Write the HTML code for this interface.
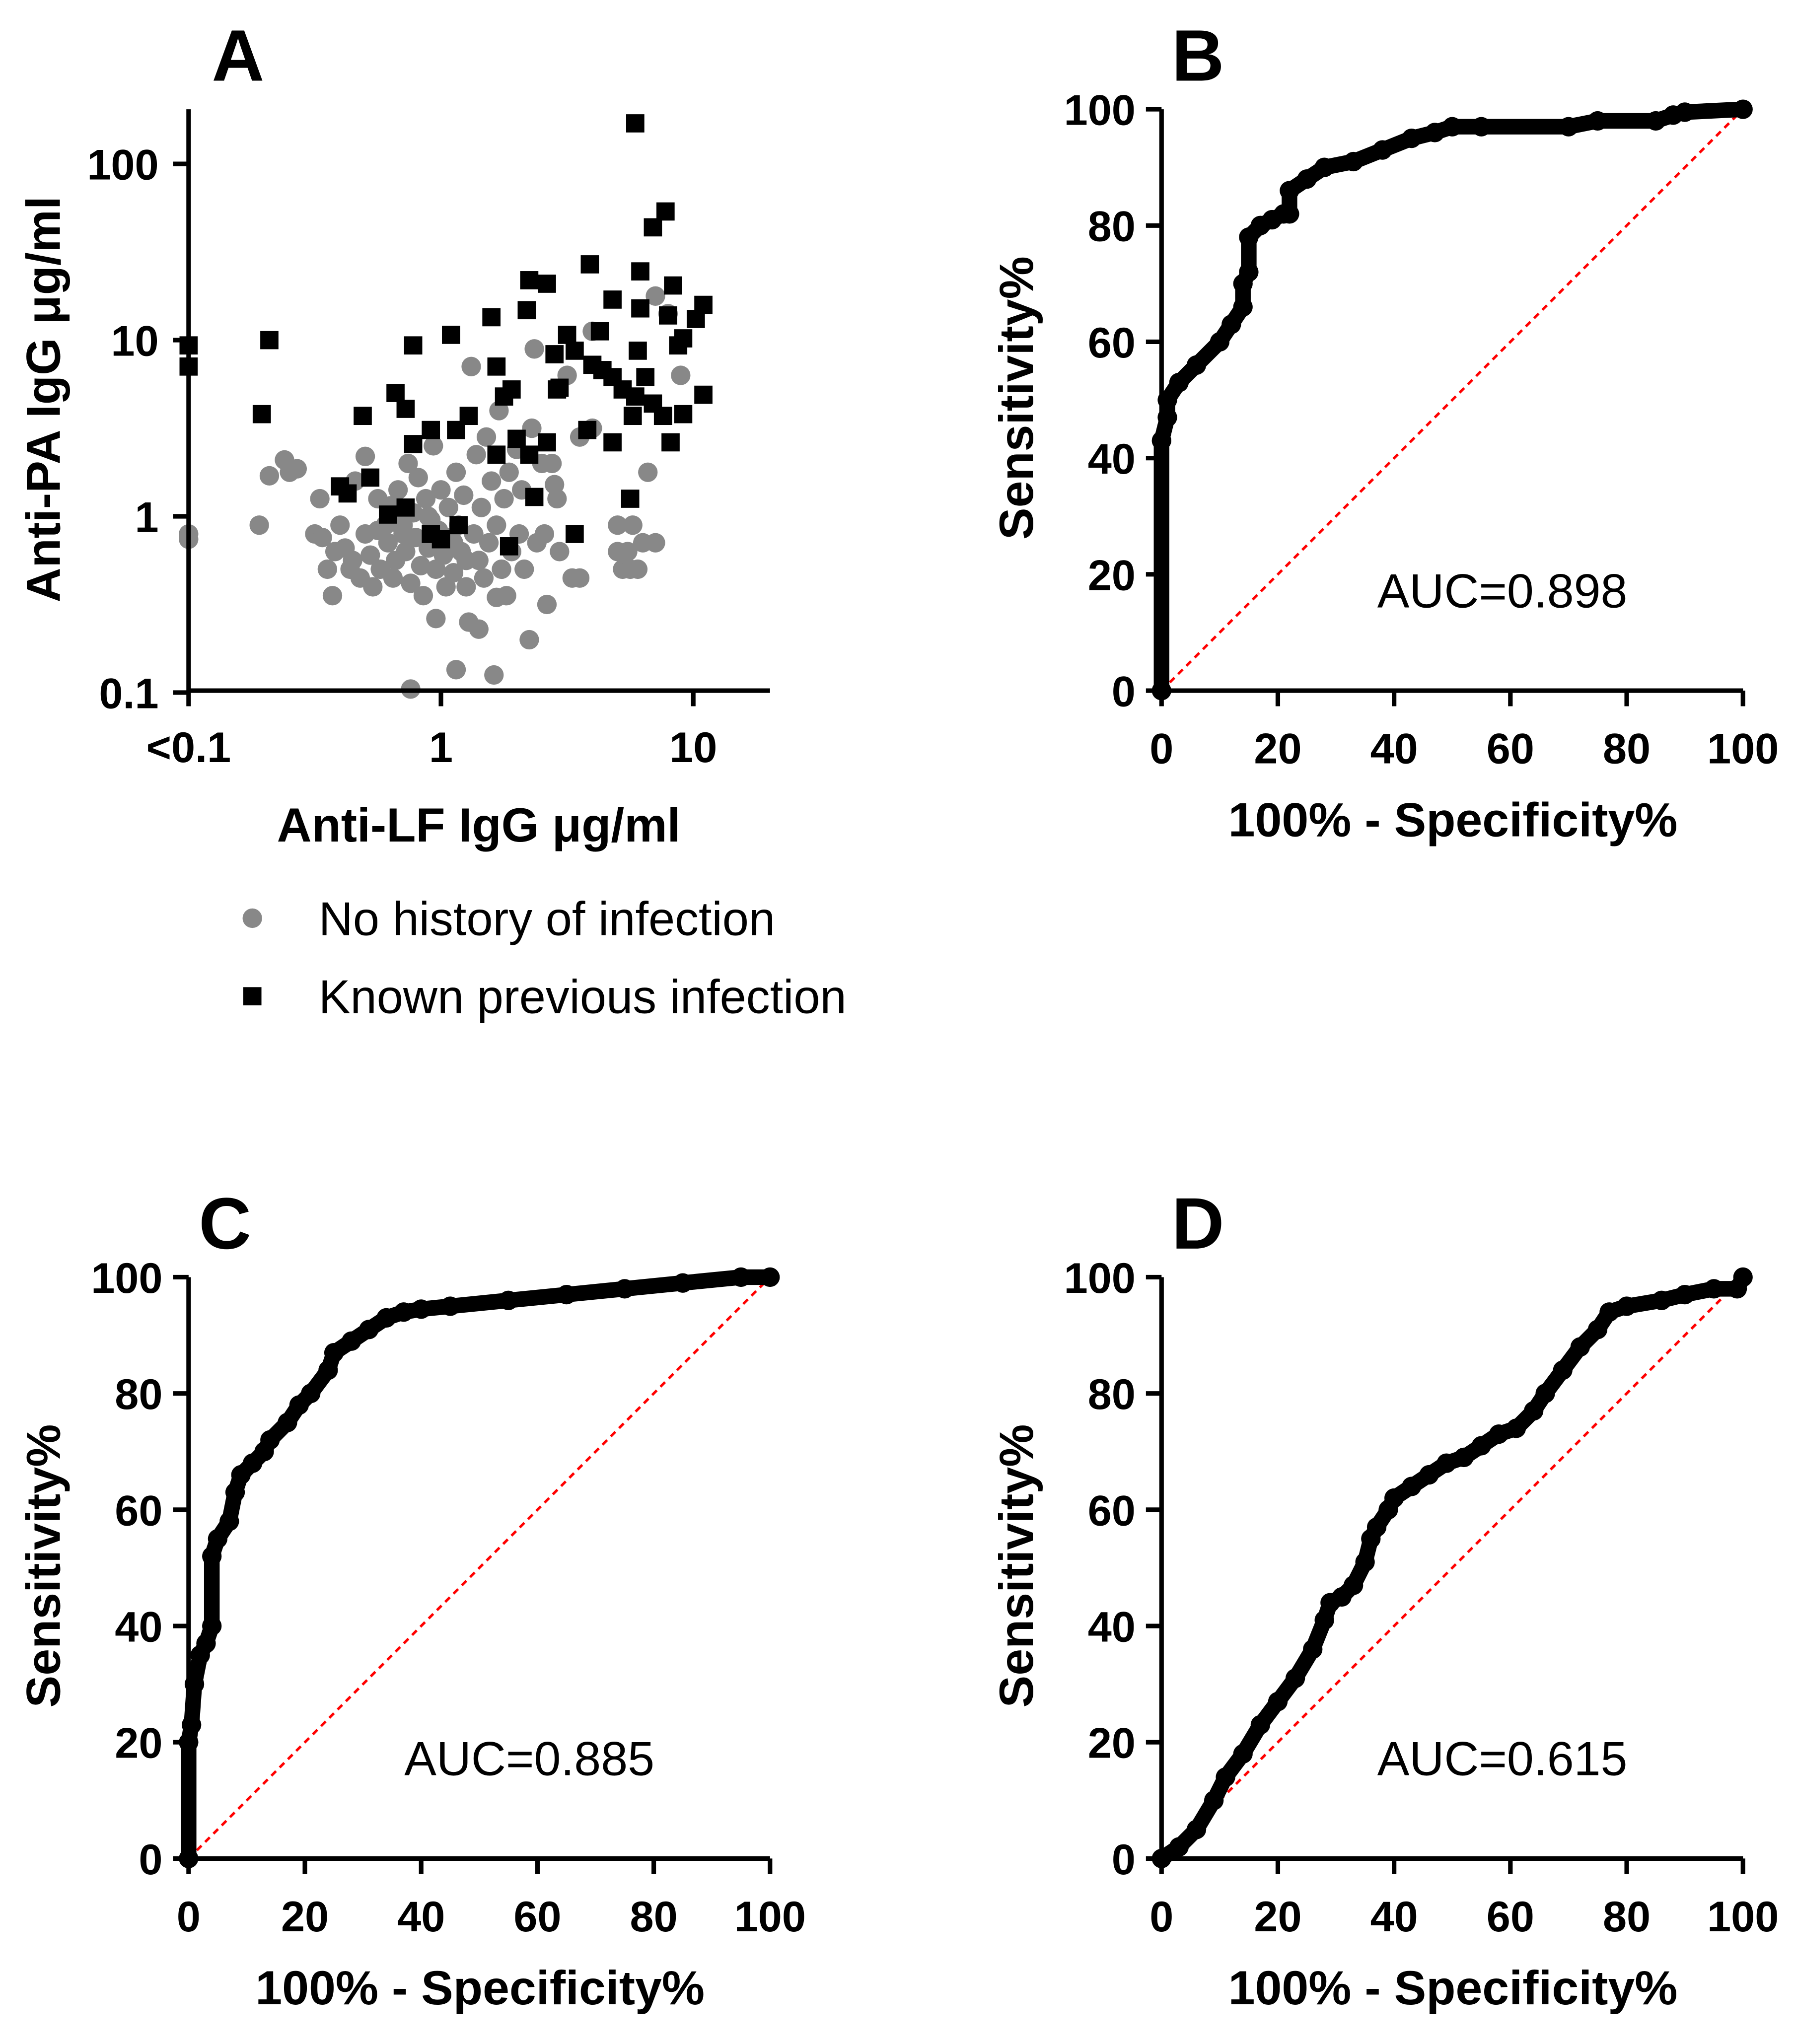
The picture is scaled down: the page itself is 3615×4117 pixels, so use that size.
<!DOCTYPE html>
<html><head><meta charset="utf-8"><style>
html,body{margin:0;padding:0;background:#fff;}
svg{display:block;}
text{font-family:"Liberation Sans",Arial,sans-serif;}
.tk{font-weight:bold;font-size:33px;}
.ti{font-weight:bold;font-size:37px;}
.pl{font-weight:bold;font-size:56px;}
</style></head><body>
<svg id="fig" width="3615" height="4117" viewBox="0 0 1380 1571.6" xmlns="http://www.w3.org/2000/svg"></svg>
<script>
// Panel A data (log10 values)
const sqLogLF=[0.77,-1,-1,-0.68,-0.71,-0.11,0.04,0.20,0.34,0.42,0.35,0.59,0.79,0.84,0.89,0.92,0.79,0.90,0.96,1.01,1.04,0.50,0.45,0.46,0.60,0.64,0.68,0.72,0.77,0.84,0.88,0.91,0.96,1.04,0.76,0.68,0.75,0.42,0.35,0.37,0.30,0.22,0.11,0.06,-0.04,-0.11,-0.18,-0.14,-0.31,-0.28,-0.40,-0.37,0.07,0.00,0.47,0.53,0.78,0.63,0.68,0.25,0.53,0.94,0.81,0.22,0.28,0.58,-0.04,-0.21,-0.14,0.27];
const sqLogPA=[2.23,0.97,0.85,1.00,0.58,0.97,1.03,1.13,1.17,1.32,1.34,1.43,1.39,1.64,1.73,1.31,1.18,1.14,1.01,1.12,1.20,1.03,0.92,0.72,0.86,0.83,0.79,0.72,0.68,0.64,0.57,0.42,0.58,0.69,0.57,0.42,0.10,0.42,0.35,0.11,0.44,0.35,0.57,0.49,0.49,0.41,0.70,0.61,0.57,0.22,0.17,0.13,-0.05,-0.13,0.73,0.94,0.94,1.05,1.23,0.68,-0.10,0.97,0.79,0.85,0.72,0.49,-0.10,0.01,0.05,-0.17];
const ciLogLF=[-1,-1,-0.72,-0.68,-0.62,-0.57,-0.6,-0.48,-0.5,-0.47,-0.42,-0.45,-0.43,-0.4,-0.38,-0.36,-0.35,-0.34,-0.32,-0.3,-0.3,-0.28,-0.27,-0.25,-0.24,-0.22,-0.21,-0.2,-0.19,-0.18,-0.17,-0.16,-0.15,-0.14,-0.13,-0.12,-0.11,-0.1,-0.09,-0.08,-0.07,-0.06,-0.05,-0.04,-0.03,-0.02,-0.01,0,0.01,0.02,0.03,0.04,0.05,0.06,0.07,0.08,0.09,0.1,0.11,0.12,0.13,0.14,0.15,0.16,0.17,0.18,0.19,0.2,0.21,0.22,0.23,0.24,0.25,0.26,0.27,0.28,0.3,0.31,0.32,0.33,0.35,0.36,0.37,0.38,0.4,0.41,0.42,0.44,0.45,0.46,0.47,0.5,0.52,0.55,0.55,0.6,0.6,0.7,0.7,0.72,0.74,0.75,0.76,0.78,0.8,0.82,0.85,0.85,0.9,0.95,0.06,-0.12,0.15,0.22,-0.02,-0.15,-0.05,0.05,-0.25,0.1];
const ciLogPA=[-0.1,-0.13,-0.05,0.23,0.32,0.27,0.25,0.1,-0.1,-0.12,-0.2,-0.3,-0.45,-0.05,-0.18,-0.3,-0.25,0.2,-0.35,0.34,-0.1,-0.22,-0.4,0.1,-0.3,-0.05,-0.15,0.06,-0.35,-0.25,0.15,-0.05,-0.1,-0.2,0.3,-0.38,0.02,-0.12,0.22,-0.28,-0.45,0.1,-0.18,-0.02,0.4,-0.3,-0.08,0.15,-0.22,-0.4,0.05,-0.12,-0.32,0.25,-0.05,-0.2,0.12,-0.4,-0.6,0.85,-0.1,0.35,-0.25,0.05,-0.35,0.45,-0.15,0.2,-0.9,-0.05,0.6,-0.3,0.1,-0.45,0.25,-0.2,0.38,-0.1,0.15,-0.3,-0.7,0.5,0.95,-0.15,0.3,-0.1,-0.5,0.3,0.18,0.1,-0.2,0.8,-0.35,-0.35,0.45,1.05,0.5,-0.2,-0.05,-0.3,-0.2,-0.3,-0.05,-0.3,-0.15,0.25,-0.15,1.25,1.15,0.8,-0.87,-0.98,-0.64,-0.46,-0.58,-0.05,0.0,-0.15,-0.08,-0.25];
// ROC data
const bFPR=[0,0,1,1,3,6,10,12,14,14,15,15,17,19,21,22,22,25,28,33,38,43,47,50,55,70,75,85,88,90,100];
const bSens=[0,43,47,50,53,56,60,63,66,70,72,78,80,81,82,82,86,88,90,91,93,95,96,97,97,97,98,98,99,99.5,100];
const cFPR=[0,0,0.5,1,2,3,4,4,5,7,8,9,11,13,14,17,19,21,24,25,28,31,34,37,40,45,55,65,75,85,95,100];
const cSens=[0,20,23,30,35,37,40,52,55,58,63,66,68,70,72,75,78,80,84,87,89,91,93,94,94.5,95,96,97,98,99,100,100];
const dFPR=[0,3,6,9,11,14,17,20,23,26,28,29,31,33,35,36,37,39,40,43,46,49,52,55,58,61,64,66,69,72,75,77,80,86,90,95,99,100];
const dSens=[0,2,5,10,14,18,23,27,31,36,41,44,45,47,51,55,57,60,62,64,66,68,69,71,73,74,77,80,84,88,91,94,95,96,97,98,98,100];
const rocTicks=[0,20,40,60,80,100];

const NS='http://www.w3.org/2000/svg';
const svg=document.getElementById('fig');
function mk(tag,attrs,parent){const e=document.createElementNS(NS,tag);for(const k in attrs)e.setAttribute(k,attrs[k]);(parent||svg).appendChild(e);return e;}
function txt(s,x,y,cls,anchor,parent,extra){const t=mk('text',Object.assign({x:x,y:y,class:cls,'text-anchor':anchor||'middle'},extra||{}),parent);t.textContent=s;return t;}

// ---------- Panel A ----------
const gA=mk('g',{});


const ax=v=>145+(v+1)*194, ay=v=>397-v*135.5;
for(let i=0;i<ciLogLF.length;i++){
  const c=mk('circle',{cx:ax(ciLogLF[i]),cy:ay(ciLogPA[i]),r:7.5,fill:'#888'},gA);
  
  
}
for(let i=0;i<sqLogLF.length;i++){
  const s=mk('rect',{x:ax(sqLogLF[i])-7,y:ay(sqLogPA[i])-7,width:14,height:14,fill:'#000'},gA);
  
  
}
mk('path',{d:'M145 84 V531 H592',fill:'none',stroke:'#000','stroke-width':3.5},gA);
const aYt=[[2,'100'],[1,'10'],[0,'1'],[-1,'0.1']];
aYt.forEach(t=>{mk('line',{x1:133,x2:145,y1:ay(t[0]),y2:ay(t[0]),stroke:'#000','stroke-width':3.5},gA);
  const l=txt(t[1],122,ay(t[0])+12,'tk','end',gA);});
const aXt=[[-1,'<0.1'],[0,'1'],[1,'10']];
aXt.forEach(t=>{mk('line',{x1:ax(t[0]),x2:ax(t[0]),y1:531,y2:543,stroke:'#000','stroke-width':3.5},gA);
  const l=txt(t[1],ax(t[0]),586,'tk','middle',gA);});
let e;
e=txt('Anti-LF IgG \u03bcg/ml',368,647,'ti','middle',gA);
e=txt('Anti-PA IgG \u03bcg/ml',0,0,'ti','middle',gA,{transform:'translate(46,307) rotate(-90)'});
e=txt('A',183,62,'pl','middle',gA);
// legend
e=mk('circle',{cx:194,cy:706,r:7.5,fill:'#888'},gA);
e=txt('No history of infection',245,719,'','start',gA,{'font-size':36.5});
e=mk('rect',{x:187,y:759,width:14,height:14,fill:'#000'},gA);
e=txt('Known previous infection',245,779,'','start',gA,{'font-size':36.5});

// ---------- ROC panels ----------
function roc(x0,y0,fpr,sens,auc,letter,aucX){
  const g=mk('g',{});
  
  
  const sx=v=>x0+v*4.47, sy=v=>y0-v*4.47;
  const d=mk('line',{x1:sx(0),y1:sy(0),x2:sx(100),y2:sy(100),stroke:'#f00','stroke-width':2,'stroke-dasharray':'5,4'},g);
  
  let p='';fpr.forEach((v,i)=>{p+=(i?'L':'M')+sx(v)+' '+sy(sens[i]);});
  mk('path',{d:'M'+x0+' '+(y0-447)+' V'+y0+' H'+(x0+447),fill:'none',stroke:'#000','stroke-width':3.5},g);
  const ln=mk('path',{d:p,fill:'none',stroke:'#000','stroke-width':12,'stroke-linejoin':'round','stroke-linecap':'round'},g);
  
  fpr.forEach((v,i)=>{const c=mk('circle',{cx:sx(v),cy:sy(sens[i]),r:7.5,fill:'#000'},g);
    });
  rocTicks.forEach(t=>{
    mk('line',{x1:x0-12,x2:x0,y1:sy(t),y2:sy(t),stroke:'#000','stroke-width':3.5},g);
    mk('line',{x1:sx(t),x2:sx(t),y1:y0,y2:y0+12,stroke:'#000','stroke-width':3.5},g);
    let l=txt(String(t),x0-20,sy(t)+12,'tk','end',g);
    l=txt(String(t),sx(t),y0+56,'tk','middle',g);
  });
  let t=txt('100% - Specificity%',x0+224,y0+112,'ti','middle',g);
  t=txt('Sensitivity%',0,0,'ti','middle',g,{transform:'translate('+(x0-99)+','+(y0-225)+') rotate(-90)'});
  t=txt('AUC='+auc,aucX,y0-64,'','middle',g,{'font-size':37});
  t=txt(letter,x0+28,y0-469,'pl','middle',g);
}
roc(893,531,bFPR,bSens,'0.898','B',1155);
roc(145,1429,cFPR,cSens,'0.885','C',407);
roc(893,1429,dFPR,dSens,'0.615','D',1155);
</script>
</body></html>
